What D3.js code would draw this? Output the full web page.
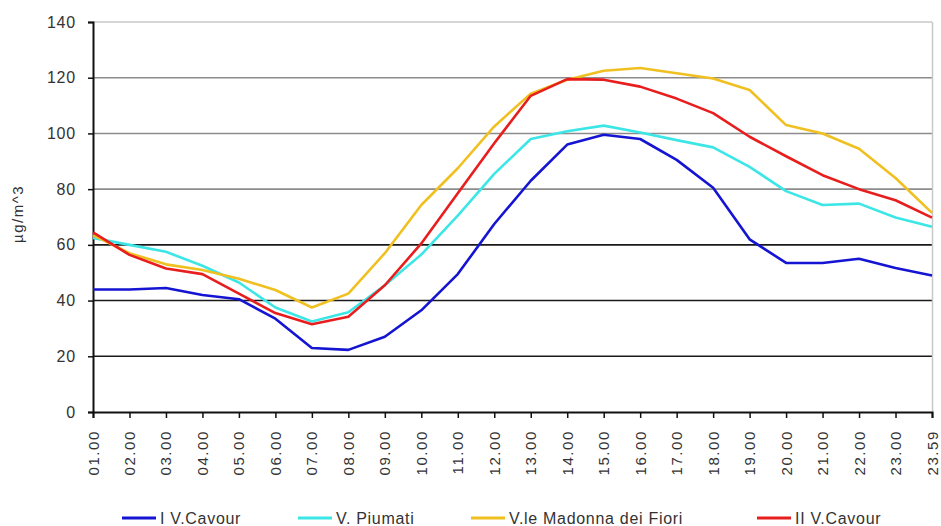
<!DOCTYPE html>
<html>
<head>
<meta charset="utf-8">
<script src="https://cdn.jsdelivr.net/npm/d3@7"></script>
<style>
  body { margin: 0; background: #fff; }
  svg { display: block; font-family: "Liberation Sans", Arial, sans-serif; }
</style>
</head>
<body>
<svg id="chart" width="941" height="526"></svg>
<script>
const hours = ["01.00","02.00","03.00","04.00","05.00","06.00","07.00","08.00","09.00","10.00","11.00","12.00",
               "13.00","14.00","15.00","16.00","17.00","18.00","19.00","20.00","21.00","22.00","23.00","23.59"];
const yTicks = [0, 20, 40, 60, 80, 100, 120, 140];
const seriesNames = ["I V.Cavour", "V. Piumati", "V.le Madonna dei Fiori", "II V.Cavour"];
const seriesColors = ["#1414d2", "#3de6e6", "#f0c020", "#e81e1e"];
const cavour1 = [44, 44, 44.5, 42, 40.5, 33.5, 23, 22.3, 27, 36.5, 49.5, 67.5, 83, 96, 99.5, 98, 90.5, 80.5, 62, 53.5, 53.5, 55, 51.7, 49];
const piumati = [62.5, 60, 57.5, 52.5, 46.5, 37.5, 32.5, 35.8, 45.5, 56.5, 70.5, 85.5, 98, 100.8, 102.8, 100.3, 97.6, 95, 88, 79.3, 74.3, 74.8, 69.8, 66.5];
const madonna = [63.5, 57, 53, 51, 47.8, 43.8, 37.5, 42.5, 57, 74.3, 87.5, 102.5, 114.3, 119.3, 122.5, 123.5, 121.6, 119.7, 115.6, 103, 100, 94.5, 84, 71.5];
const cavour2 = [64.5, 56.4, 51.5, 49.5, 42.5, 35.5, 31.5, 34.2, 45.5, 60.5, 78.5, 96.5, 113.5, 119.5, 119.3, 116.8, 112.5, 107.3, 98.8, 91.8, 85, 80, 76, 69.8];
const allSeries = [cavour1, piumati, madonna, cavour2];

const svg = d3.select("#chart");
const pLeft = 93, pRight = 932, pTop = 22, pBottom = 412;
const x = d3.scalePoint().domain(hours).range([pLeft, pRight]);
const y = d3.scaleLinear().domain([0, 140]).range([pBottom, pTop]);

// grid lines
svg.append("g").selectAll("line").data(yTicks.filter(v => v > 0)).join("line")
  .attr("x1", pLeft).attr("x2", pRight)
  .attr("y1", d => y(d)).attr("y2", d => y(d))
  .attr("stroke", d => d >= 140 ? "#c8c8c8" : (d >= 80 ? "#8c8c8c" : "#1a1a1a"))
  .attr("stroke-width", 1.6);

// right border
svg.append("line").attr("x1", pRight + 0.5).attr("x2", pRight + 0.5)
  .attr("y1", pTop).attr("y2", pBottom).attr("stroke", "#c8c8c8").attr("stroke-width", 1.5);

// Y axis
const yAxis = d3.axisLeft(y).tickValues(yTicks).tickSize(5).tickPadding(12).tickFormat(d3.format("d"));
const gy = svg.append("g").attr("transform", `translate(${pLeft},0)`).call(yAxis);
gy.select(".domain").attr("stroke", "#111").attr("stroke-width", 2);
gy.selectAll(".tick line").attr("stroke", "#111").attr("stroke-width", 1.5);
gy.selectAll(".tick text").attr("font-size", 16).attr("fill", "#333").attr("letter-spacing", "0.8px")
  .attr("font-family", "'Liberation Sans', Arial, sans-serif");

// X axis
const xAxis = d3.axisBottom(x).tickSize(6).tickPadding(0);
const gx = svg.append("g").attr("transform", `translate(0,${pBottom})`).call(xAxis);
gx.select(".domain").attr("stroke", "#111").attr("stroke-width", 2);
gx.selectAll(".tick line").attr("stroke", "#111").attr("stroke-width", 1.5);
gx.selectAll(".tick text")
  .attr("font-size", 15).attr("fill", "#333").attr("letter-spacing", "1.6px")
  .attr("font-family", "'Liberation Sans', Arial, sans-serif")
  .attr("text-anchor", "end").attr("dy", null).attr("y", 0)
  .attr("transform", "translate(5,18) rotate(-90)");

// Y title
svg.append("text").attr("transform", "translate(23,214) rotate(-90)")
  .attr("text-anchor", "middle").attr("font-size", 15).attr("fill", "#333")
  .attr("letter-spacing", "1.5px")
  .text("µg/m^3");

// lines
const line = d3.line().x((d, i) => x(hours[i])).y(d => y(d));
svg.append("g").selectAll("path").data(allSeries).join("path")
  .attr("d", d => line(d)).attr("fill", "none")
  .attr("stroke", (d, i) => seriesColors[i]).attr("stroke-width", 2.6)
  .attr("stroke-linejoin", "round");

// legend
const legendX = [122, 298, 471, 757];
const lg = svg.append("g").attr("transform", "translate(0,518)");
const items = lg.selectAll("g").data(seriesNames).join("g")
  .attr("transform", (d, i) => `translate(${legendX[i]},0)`);
items.append("line").attr("x1", 0).attr("x2", 34).attr("y1", 0).attr("y2", 0)
  .attr("stroke", (d, i) => seriesColors[i]).attr("stroke-width", 3);
items.append("text").attr("x", 38).attr("y", 6).attr("font-size", 16).attr("fill", "#333")
  .attr("letter-spacing", "0.7px")
  .text(d => d);
</script>
</body>
</html>
